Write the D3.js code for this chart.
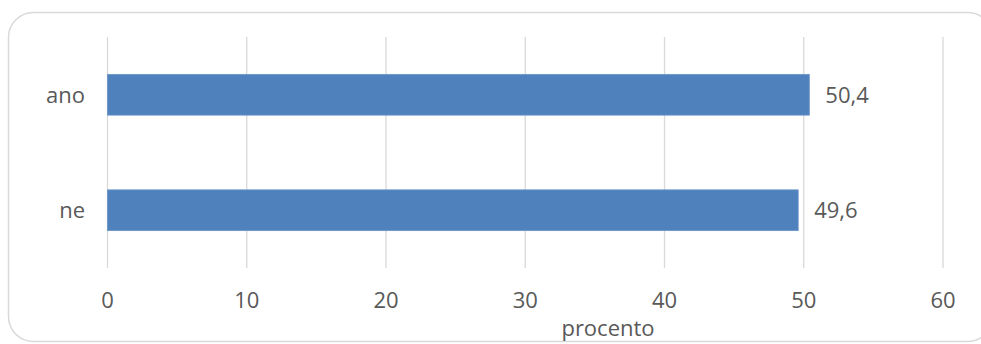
<!DOCTYPE html>
<meta charset="utf-8">
<title>procento</title>
<style>
    body {
        margin: 0;
        background: #fff;
    }

    svg text {
        font-family: "Open Sans", sans-serif;
        fill: #595959;
    }
</style>
<body>
<script src="https://cdnjs.cloudflare.com/ajax/libs/d3/7.8.5/d3.min.js"></script>
<script>
    var categories = ["ano", "ne"];
    var values = [50.4, 49.6];
    var ticks = [0, 10, 20, 30, 40, 50, 60];
    var axisTitle = "procento";

    var W = 981, H = 344;
    var fontSize = 22;

    var svg = d3.select("body").append("svg")
        .attr("width", W)
        .attr("height", H);

    // chart frame (runs off the right edge, like the original)
    svg.append("rect")
        .attr("x", 8.5)
        .attr("y", 12.5)
        .attr("width", 984)
        .attr("height", 329)
        .attr("rx", 25)
        .attr("fill", "#fff")
        .attr("stroke", "#d9d9d9")
        .attr("stroke-width", 1.5);

    var x = d3.scaleLinear()
        .domain([0, 60])
        .range([107.5, 943]);

    var y = d3.scaleBand()
        .domain(categories)
        .range([37, 268])
        .paddingInner(0.647)
        .paddingOuter(0.3235);

    // vertical gridlines
    svg.selectAll("line.grid")
        .data(ticks)
        .enter()
        .append("line")
        .attr("class", "grid")
        .attr("x1", function (d) { return x(d); })
        .attr("x2", function (d) { return x(d); })
        .attr("y1", 37)
        .attr("y2", 268)
        .attr("stroke", "#d9d9d9")
        .attr("stroke-width", 1.3);

    // x tick labels
    svg.selectAll("text.tick")
        .data(ticks)
        .enter()
        .append("text")
        .attr("class", "tick")
        .attr("x", function (d) { return x(d); })
        .attr("y", 308)
        .attr("text-anchor", "middle")
        .style("font-size", fontSize + "px")
        .text(function (d) { return d; });

    // bars
    var rows = categories.map(function (c, i) { return {cat: c, val: values[i]}; });

    svg.selectAll("rect.bar")
        .data(rows)
        .enter()
        .append("rect")
        .attr("class", "bar")
        .attr("x", x(0))
        .attr("y", function (d) { return y(d.cat); })
        .attr("width", function (d) { return x(d.val) - x(0); })
        .attr("height", y.bandwidth())
        .attr("fill", "#4f81bd")
        .attr("stroke", "#6b95c8")
        .attr("stroke-width", 0.8);

    // value labels
    svg.selectAll("text.val")
        .data(rows)
        .enter()
        .append("text")
        .attr("class", "val")
        .attr("x", function (d) { return x(d.val) + 16; })
        .attr("y", function (d) { return y(d.cat) + y.bandwidth() / 2; })
        .attr("dy", "0.36em")
        .style("font-size", fontSize + "px")
        .text(function (d) { return String(d.val).replace(".", ","); });

    // category labels
    svg.selectAll("text.cat")
        .data(categories)
        .enter()
        .append("text")
        .attr("class", "cat")
        .attr("x", 85)
        .attr("y", function (d) { return y(d) + y.bandwidth() / 2; })
        .attr("dy", "0.36em")
        .attr("text-anchor", "end")
        .style("font-size", fontSize + "px")
        .text(function (d) { return d; });

    // axis title
    svg.append("text")
        .attr("x", 608)
        .attr("y", 336)
        .attr("text-anchor", "middle")
        .style("font-size", fontSize + "px")
        .text(axisTitle);
</script>
